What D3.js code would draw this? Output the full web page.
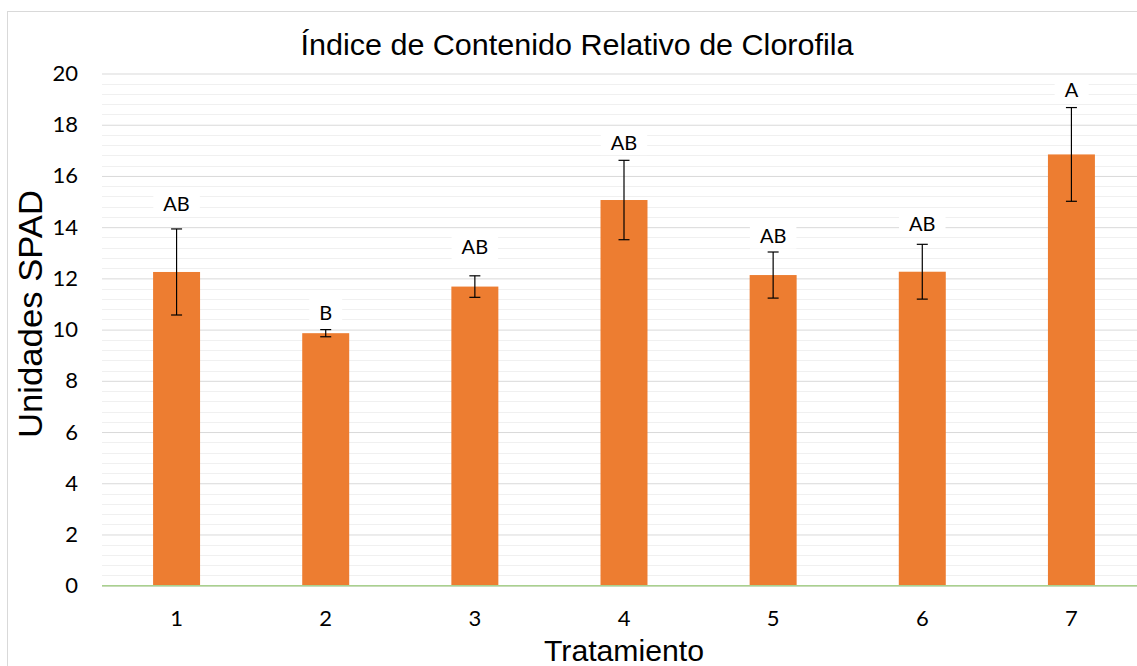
<!DOCTYPE html>
<html>
<head>
<meta charset="utf-8">
<script src="https://cdn.jsdelivr.net/npm/d3@7"></script>
<style>
  html, body { margin: 0; padding: 0; background: #fff; }
  svg { display: block; }
</style>
</head>
<body>
<svg id="chart" width="1137" height="666"></svg>
<script>
// Chlorophyll relative content (SPAD units) per treatment
const treatments = ["1", "2", "3", "4", "5", "6", "7"];
const spadMeans = [12.25, 9.86, 11.68, 15.06, 12.13, 12.26, 16.84];
const spadErrors = [1.68, 0.14, 0.42, 1.55, 0.90, 1.07, 1.83];
const groupLetters = ["AB", "B", "AB", "AB", "AB", "AB", "A"];
// height (SPAD units) at which each significance letter sits
const letterHeights = [14.94, 10.70, 13.28, 17.34, 13.69, 14.15, 19.38];
const yTicks = [0, 2, 4, 6, 8, 10, 12, 14, 16, 18, 20];

const svg = d3.select("#chart");

// chart frame
svg.append("rect")
  .attr("x", 7.5).attr("y", 11.5)
  .attr("width", 1200).attr("height", 700)
  .attr("fill", "#fff").attr("stroke", "#d9d9d9").attr("stroke-width", 1);

const plot = { left: 102, right: 1146, top: 73.5, bottom: 585.7 };

const x = d3.scaleBand()
  .domain(treatments)
  .range([plot.left, plot.right])
  .paddingInner(0.685)
  .paddingOuter(0.685 / 2);

const y = d3.scaleLinear().domain([0, 20]).range([plot.bottom, plot.top]);

// minor gridlines every 0.4
const minor = d3.range(0, 20.001, 0.4).filter(v => Math.abs(v / 2 - Math.round(v / 2)) > 1e-6);
svg.append("g").selectAll("line").data(minor).join("line")
  .attr("x1", plot.left).attr("x2", plot.right)
  .attr("y1", d => Math.round(y(d)) + 0.5).attr("y2", d => Math.round(y(d)) + 0.5)
  .attr("stroke", "#f0f0f0").attr("stroke-width", 1);

// major gridlines + y-axis labels
const yAxis = d3.axisLeft(y).tickValues(yTicks).tickSize(-(plot.right - plot.left)).tickPadding(24).tickFormat(d3.format("d"));
const gy = svg.append("g").attr("transform", `translate(${plot.left},0)`).call(yAxis);
gy.select(".domain").remove();
gy.selectAll(".tick line").attr("stroke", "#d9d9d9").attr("stroke-width", 1);
gy.selectAll(".tick text")
  .attr("font-family", "Lato, 'Open Sans', sans-serif")
  .attr("font-size", 22).attr("fill", "#000");

// bars
svg.append("g").selectAll("rect").data(treatments).join("rect")
  .attr("x", (d) => x(d))
  .attr("width", x.bandwidth())
  .attr("y", (d, i) => y(spadMeans[i]))
  .attr("height", (d, i) => y(0) - y(spadMeans[i]))
  .attr("fill", "#ED7D31");

// x axis baseline
svg.append("line")
  .attr("x1", plot.left).attr("x2", plot.right)
  .attr("y1", y(0)).attr("y2", y(0))
  .attr("stroke", "#a9d18e").attr("stroke-width", 1.5);

// x-axis labels
const xAxis = d3.axisBottom(x).tickSize(0).tickPadding(25);
const gx = svg.append("g").attr("transform", `translate(0,${y(0)})`).call(xAxis);
gx.select(".domain").remove();
gx.selectAll(".tick text")
  .attr("font-family", "Lato, 'Open Sans', sans-serif")
  .attr("font-size", 22).attr("fill", "#000");

// error bars
const eb = svg.append("g").attr("stroke", "#000").attr("stroke-width", 1.2);
treatments.forEach((t, i) => {
  const cx = x(t) + x.bandwidth() / 2;
  const hi = y(spadMeans[i] + spadErrors[i]);
  const lo = y(spadMeans[i] - spadErrors[i]);
  eb.append("line").attr("x1", cx).attr("x2", cx).attr("y1", hi).attr("y2", lo);
  eb.append("line").attr("x1", cx - 5.5).attr("x2", cx + 5.5).attr("y1", hi).attr("y2", hi);
  eb.append("line").attr("x1", cx - 5.5).attr("x2", cx + 5.5).attr("y1", lo).attr("y2", lo);
});

// significance letters with white backing
const lg = svg.append("g");
treatments.forEach((t, i) => {
  const cx = x(t) + x.bandwidth() / 2;
  const cy = y(letterHeights[i]);
  const g = lg.append("g");
  const txt = g.append("text")
    .attr("x", cx).attr("y", cy)
    .attr("text-anchor", "middle").attr("dominant-baseline", "central")
    .attr("font-family", "Lato, 'Open Sans', sans-serif")
    .attr("font-size", 20).attr("fill", "#000")
    .text(groupLetters[i]);
  const bb = txt.node().getBBox();
  g.insert("rect", "text")
    .attr("x", bb.x - 10).attr("y", cy - 13.5)
    .attr("width", bb.width + 20).attr("height", 27)
    .attr("fill", "#fff");
});

// title
svg.append("text")
  .attr("x", 577).attr("y", 55)
  .attr("text-anchor", "middle")
  .attr("font-family", "'Liberation Sans', Arial, sans-serif")
  .attr("font-size", 30).attr("fill", "#000")
  .attr("textLength", 553).attr("lengthAdjust", "spacingAndGlyphs")
  .text("Índice de Contenido Relativo de Clorofila");

// y-axis title
svg.append("text")
  .attr("transform", `translate(42,314) rotate(-90)`)
  .attr("text-anchor", "middle")
  .attr("font-family", "'Liberation Sans', Arial, sans-serif")
  .attr("font-size", 34).attr("fill", "#000")
  .attr("textLength", 248).attr("lengthAdjust", "spacingAndGlyphs")
  .text("Unidades SPAD");

// x-axis title
svg.append("text")
  .attr("x", 624).attr("y", 661)
  .attr("text-anchor", "middle")
  .attr("font-family", "'Liberation Sans', Arial, sans-serif")
  .attr("font-size", 30).attr("fill", "#000")
  .attr("textLength", 160).attr("lengthAdjust", "spacingAndGlyphs")
  .text("Tratamiento");
</script>
</body>
</html>
